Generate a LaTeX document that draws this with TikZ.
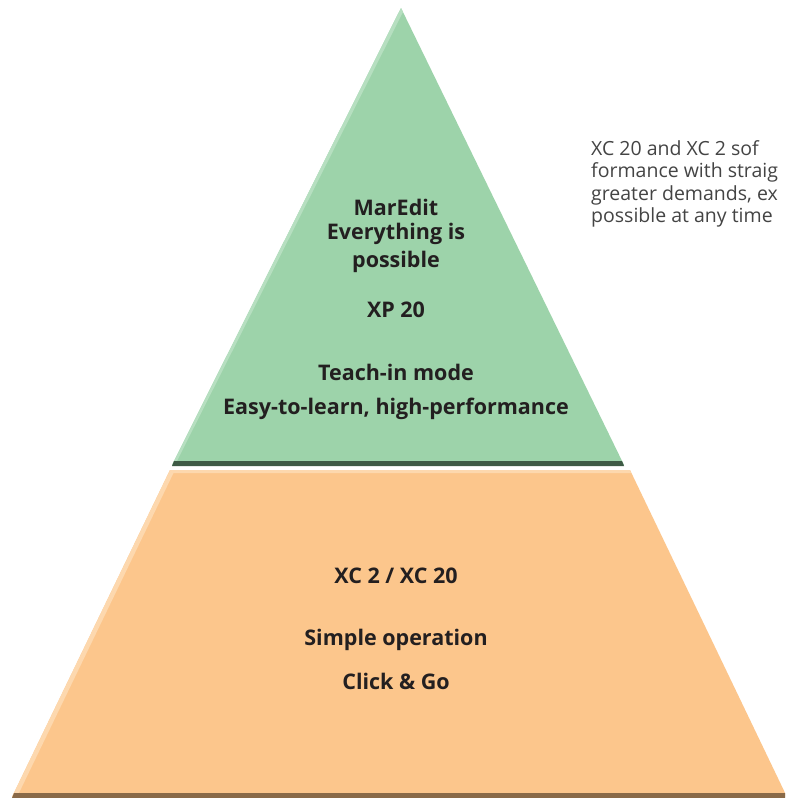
\documentclass[tikz,border=0pt]{standalone}
\usepackage{fontspec}
\setmainfont{Open Sans}
\definecolor{pgreen}{HTML}{9DD3AA}
\definecolor{pgreenhi}{HTML}{B6DFC0}
\definecolor{pgreendk}{HTML}{3E5A45}
\definecolor{porange}{HTML}{FCC68C}
\definecolor{porangehi}{HTML}{FDD8AE}
\definecolor{porangedk}{HTML}{8A6A48}
\definecolor{ptext}{HTML}{231F20}
\definecolor{pside}{HTML}{444444}
\tikzset{
  label/.style={font=\fontsize{21.5}{26}\selectfont\bfseries, text=ptext, anchor=center, inner sep=0pt},
  side/.style={font=\fontsize{19.5}{22.5}\selectfont, text=pside, align=left, anchor=north west, inner sep=0pt}
}
\begin{document}
\begin{tikzpicture}[x=1pt,y=-1pt]
\useasboundingbox (0,0) rectangle (785,798);
\clip (0,0) rectangle (785,798);
\fill[white] (0,0) rectangle (785,798);
% green top triangle
\fill[pgreen] (401,8) -- (624,465) -- (172,465) -- cycle;
\fill[pgreenhi] (401,8) -- (403,12) -- (176,463) -- (172,465) -- cycle;
\fill[pgreendk] (174,461) -- (622,461) -- (624,466) -- (172,466) -- cycle;
% orange bottom trapezoid
\fill[porange] (170,470) -- (630,470) -- (787,797) -- (12,797) -- cycle;
\fill[porangehi] (170,470) -- (174,472) -- (18,795) -- (12,797) -- cycle;
\fill[porangehi] (170,470) -- (630,470) -- (631,473) -- (169,473) -- cycle;
\fill[porangedk] (14,793) -- (785,793) -- (787,798) -- (12,798) -- cycle;
% texts
\node[label] (maredit) at (396,207) {MarEdit};
\node[label] (everything) at (396,234) {Everything is};
\node[label] (possible) at (396,262) {possible};
\node[label] (xp) at (396,310) {XP 20};
\node[label] (teach) at (396,372) {Teach-in mode};
\node[label] (easy) at (396,409) {Easy-to-learn, high-performance};
\node[label] (xc) at (396,576) {XC 2 / XC 20};
\node[label] (simple) at (396,640) {Simple operation};
\node[label] (click) at (396,681) {Click \& Go};
\node[side] (sidetext) at (591,140) {XC 20 and XC 2 sof\\formance with straig\\greater demands, ex\\possible at any time};
\end{tikzpicture}
\end{document}
